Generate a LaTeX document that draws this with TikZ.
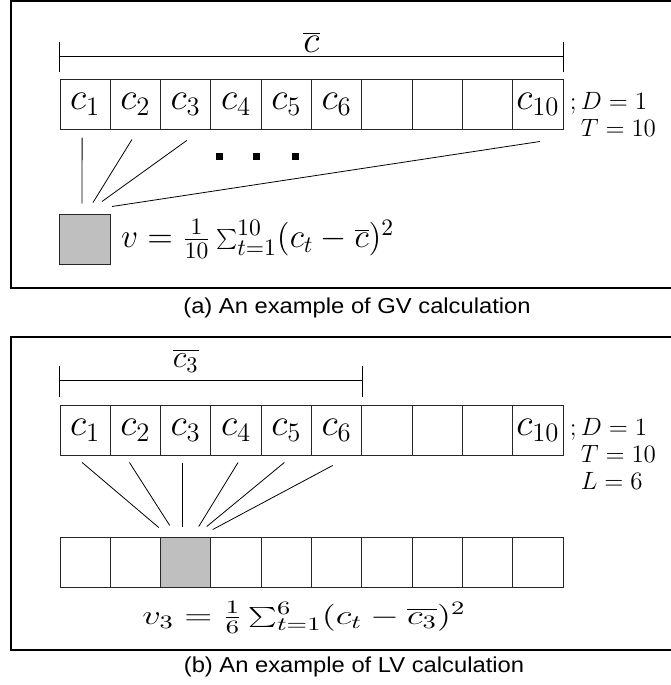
\RequirePackage{fix-cm}
\documentclass[tikz,border=0pt]{standalone}
\usepackage{fontspec}
\usepackage{graphicx}
\usetikzlibrary{positioning}
\newfontfamily\capfont[FakeStretch=1.1]{Liberation Sans}
\renewcommand{\arraystretch}{0.9}
\tikzset{
  cell/.style={draw=black!85, line width=0.5pt, minimum width=25.15pt, minimum height=25pt, inner sep=0pt, font=\fontsize{19}{22}\selectfont},
  param/.style={anchor=base west, inner xsep=3pt, inner ysep=0pt, font=\fontsize{12.5}{15}\selectfont},
  capt/.style={font=\capfont\fontsize{10.8}{13}\selectfont},
  frame/.style={line width=0.9pt}
}
\begin{document}
\begin{tikzpicture}[x=0.5pt,y=0.5pt]
	\useasboundingbox (0,0) rectangle (670,-685);
	% (a) global variance
	\draw[frame] (11,-0.8) rectangle (690,-288);
	\foreach \i/\t in {1/$c_1$,2/$c_2$,3/$c_3$,4/$c_4$,5/$c_5$,6/$c_6$,7/{},8/{},9/{},10/$c_{10}$}
		\node[cell] (a\i) at ({60+50.3*(\i-0.5)},-104) {\t};
	\draw ([shift={(0,7)}]a1.north west) -- ([shift={(0,37)}]a1.north west);
	\draw ([shift={(0,7)}]a10.north east) -- ([shift={(0,37)}]a10.north east);
	\draw ([shift={(0,22)}]a1.north west) -- node[above, inner sep=2pt, font=\fontsize{19}{22}\selectfont] (cbar) {$\overline{c}$} ([shift={(0,22)}]a10.north east);
	\node[param] (pa) at (a10.base east) {$;\begin{array}[t]{@{}l@{}}D=1\\T=10\end{array}$};
	\node[cell, fill=gray!50] (g) at (85,-239) {};
	\foreach \n/\s/\e in {a1/{-3,-8}/{-3,10}, a2/{-3.5,-10}/{8,11}, a3/{1,-11}/{17,12}, a10/{2,-12}/{27,7}}
		\draw ([shift={(\s)}]\n.south) -- ([shift={(\e)}]g.north);
	\foreach \x in {219,256,295}
		\fill (\x-3.5,-152.5) rectangle ++(7,-7);
	\node[right=5pt of g, inner sep=0pt, font=\fontsize{16.8}{20}\selectfont] (fa) {$v=\frac{1}{10}\sum_{t=1}^{10}(c_t-\overline{c})^2$};
	\node[capt] (capa) at (357,-308) {(a) An example of GV calculation};
	% (b) local variance
	\draw[frame] (11,-337) rectangle (690,-650);
	\foreach \i/\t in {1/$c_1$,2/$c_2$,3/$c_3$,4/$c_4$,5/$c_5$,6/$c_6$,7/{},8/{},9/{},10/$c_{10}$}
		\node[cell] (b\i) at ({60+50.3*(\i-0.5)},-430) {\t};
	\draw ([shift={(0,8)}]b1.north west) -- ([shift={(0,39)}]b1.north west);
	\draw ([shift={(0,8)}]b6.north east) -- ([shift={(0,39)}]b6.north east);
	\draw ([shift={(0,24)}]b1.north west) -- ([shift={(0,24)}]b6.north east);
	\node[above, inner sep=4pt, font=\fontsize{16}{19}\selectfont] (cbarb) at ([shift={(0,24)}]b3.north) {$\overline{c_3}$};
	\node[param] (pb) at (b10.base east) {$;\begin{array}[t]{@{}l@{}}D=1\\T=10\\L=6\end{array}$};
	\foreach \i in {1,2,4,5,6,7,8,9,10}
		\node[cell] (l\i) at ({60+50.3*(\i-0.5)},-562) {};
	\node[cell, fill=gray!50] (l3) at ({60+50.3*2.5},-562) {};
	\foreach \n/\s/\e in {b1/{-3,-7}/{-27,9}, b2/{-6,-7}/{-16,11}, b3/{-3,-7}/{-3,10}, b4/{2,-7}/{13,10}, b5/{-2,-7}/{21,10}, b6/{-4,-10}/{27,7}}
		\draw ([shift={(\s)}]\n.south) -- ([shift={(\e)}]l3.north);
	\node[inner sep=0pt, font=\fontsize{13.5}{16}\selectfont] (fb) at ([shift={(-8,-30)}]l5.south east) {\scalebox{1.36}[1]{$v_3=\frac{1}{6}\sum_{t=1}^{6}(c_t-\overline{c_3})^2$}};
	\node[capt] (capb) at (354,-667) {(b) An example of LV calculation};
\end{tikzpicture}
\end{document}
